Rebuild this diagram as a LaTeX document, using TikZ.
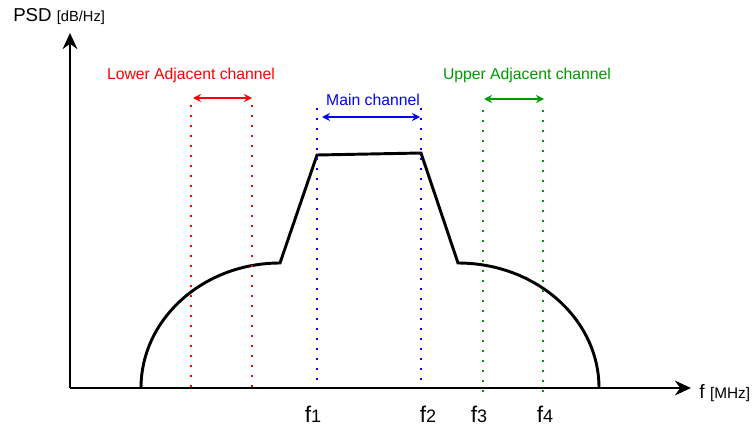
\documentclass[tikz,border=0pt]{standalone}
\usepackage{fontspec}
\setmainfont{Liberation Sans}
\usetikzlibrary{arrows.meta}
\definecolor{lowred}{RGB}{255,0,0}
\definecolor{mainblue}{RGB}{0,0,255}
\definecolor{upgreen}{RGB}{0,153,0}
\newcommand{\freq}[1]{{\fontsize{17}{17}\selectfont f}{\fontsize{13.5}{13.5}\selectfont #1}}
\begin{document}
\begin{tikzpicture}[x=0.75pt,y=0.75pt,
  axis/.style={line width=2.2pt,-{Stealth[length=12pt,width=11pt]}},
  chan/.style={line width=1.4pt,dash pattern=on 1.5pt off 6pt},
  span/.style={line width=0.9pt,{Stealth[length=6pt,width=6pt]}-{Stealth[length=6pt,width=6pt]}},
  lbl/.style={font=\fontsize{11.8}{11.8}\selectfont}]
  \useasboundingbox (0,0) rectangle (755,430);
  % axes
  \coordinate (origin) at (70,42);
  \coordinate (ytip) at (70,397);
  \coordinate (xtip) at (691,42);
  \draw[axis] (origin) -- (ytip);
  \draw[axis] (origin) -- (xtip);
  \node[anchor=base west,inner sep=0pt] (psd) at (13,409)
    {\fontsize{14}{14}\selectfont PSD {\fontsize{11}{11}\selectfont [dB/Hz]}};
  \node[anchor=base west,inner sep=0pt] (fax) at (699,32)
    {\fontsize{14.5}{14.5}\selectfont f {\fontsize{11.5}{11.5}\selectfont [MHz]}};
  % spectrum
  \draw[line width=2.2pt,line join=miter] (141,42) arc[start angle=180,end angle=90,x radius=139,y radius=125]
    -- (317,275) -- (421,277) -- (458,167)
    arc[start angle=90,end angle=0,x radius=141,y radius=125];
  % lower adjacent channel
  \coordinate (l1t) at (191,325); \coordinate (l1b) at (191,42);
  \coordinate (l2t) at (252,325); \coordinate (l2b) at (252,42);
  \draw[chan,lowred] (l1t) -- (l1b);
  \draw[chan,lowred] (l2t) -- (l2b);
  \coordinate (la) at (193,332); \coordinate (lb) at (252,332);
  \draw[span,lowred] (la) -- (lb);
  \node[lbl,text=lowred] (lowlbl) at (191,355) {Lower Adjacent channel};
  % main channel
  \coordinate (m1t) at (317,322); \coordinate (m1b) at (317,48);
  \coordinate (m2t) at (421,322); \coordinate (m2b) at (421,42);
  \draw[chan,mainblue] (m1t) -- (m1b);
  \draw[chan,mainblue] (m2t) -- (m2b);
  \coordinate (ma) at (322,313); \coordinate (mb) at (420,313);
  \draw[span,mainblue] (ma) -- (mb);
  \node[lbl,text=mainblue] (mainlbl) at (373,330) {Main channel};
  % upper adjacent channel
  \coordinate (u1t) at (483,320); \coordinate (u1b) at (483,37);
  \coordinate (u2t) at (543,320); \coordinate (u2b) at (543,37);
  \draw[chan,upgreen] (u1t) -- (u1b);
  \draw[chan,upgreen] (u2t) -- (u2b);
  \coordinate (ua) at (484,331); \coordinate (ub) at (544,331);
  \draw[span,upgreen] (ua) -- (ub);
  \node[lbl,text=upgreen] (uplbl) at (527,355) {Upper Adjacent channel};
  % frequency marks
  \node[anchor=base,inner sep=0pt] (f1) at (313,8) {\freq{1}};
  \node[anchor=base,inner sep=0pt] (f2) at (428,8) {\freq{2}};
  \node[anchor=base,inner sep=0pt] (f3) at (479,8) {\freq{3}};
  \node[anchor=base,inner sep=0pt] (f4) at (545,8) {\freq{4}};
\end{tikzpicture}
\end{document}
